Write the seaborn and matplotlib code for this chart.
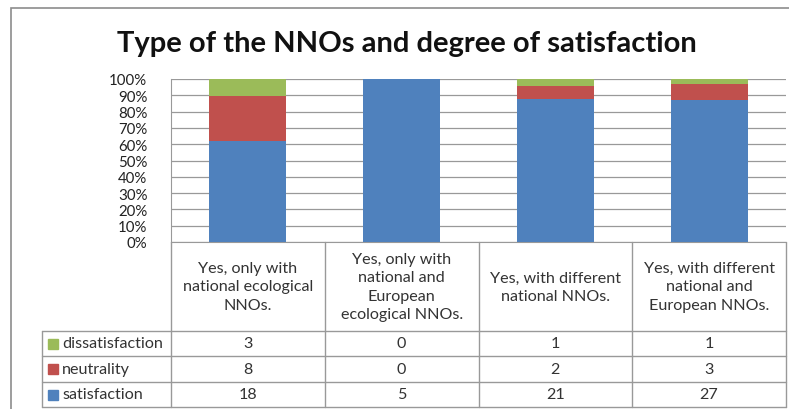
import pandas as pd
import matplotlib
matplotlib.use("Agg")
import matplotlib.pyplot as plt
import seaborn as sns
from matplotlib.lines import Line2D
from matplotlib.patches import Rectangle

# Data
categories = ["Yes, only with\nnational ecological\nNNOs.",
              "Yes, only with\nnational and\nEuropean\necological NNOs.",
              "Yes, with different\nnational NNOs.",
              "Yes, with different\nnational and\nEuropean NNOs."]
satisfaction = [18, 5, 21, 27]
neutrality = [8, 0, 2, 3]
dissatisfaction = [3, 0, 1, 1]

series_names = ["dissatisfaction", "neutrality", "satisfaction"]
colors = {"satisfaction": "#4F81BD", "neutrality": "#C0504D", "dissatisfaction": "#9BBB59"}

df = pd.DataFrame({"cat": list(range(len(categories))),
                   "satisfaction": satisfaction,
                   "neutrality": neutrality,
                   "dissatisfaction": dissatisfaction})
total = df[["satisfaction", "neutrality", "dissatisfaction"]].sum(axis=1)
df["cum_sat"] = df["satisfaction"] / total * 100
df["cum_neu"] = (df["satisfaction"] + df["neutrality"]) / total * 100
df["cum_dis"] = (df["satisfaction"] + df["neutrality"] + df["dissatisfaction"]) / total * 100

sns.set_style("white")
plt.rcParams["font.family"] = ["Lato", "DejaVu Sans"]

W, H = 789, 410
fig = plt.figure(figsize=(W / 100, H / 100), dpi=100)

def fx(px):
    return px / W

def fy(py):
    return 1 - py / H

# outer chart border
fig.add_artist(Rectangle((fx(11), fy(420)), fx(800) - fx(11), fy(9) - fy(420),
                         transform=fig.transFigure, fill=False, edgecolor="#8c8c8c", lw=1.2))

ax_l, ax_r, ax_t, ax_b = 171, 786, 80, 243
ax = fig.add_axes([fx(ax_l), fy(ax_b), fx(ax_r - ax_l), fy(ax_t) - fy(ax_b)])

for col, c in [("cum_dis", "dissatisfaction"), ("cum_neu", "neutrality"), ("cum_sat", "satisfaction")]:
    sns.barplot(data=df, x="cat", y=col, color=colors[c], width=0.5, saturation=1,
                ax=ax, zorder=3, edgecolor="none")

ax.set_xlim(-0.5, len(categories) - 0.5)
ax.set_ylim(0, 100)
ax.set_yticks(range(0, 101, 10))
ax.set_yticklabels([f"{v}%" for v in range(0, 101, 10)], fontsize=10.8, color="#222222")
ax.set_xticks([])
ax.set_xlabel("")
ax.set_ylabel("")
ax.yaxis.grid(True, color="#999999", lw=0.9, zorder=0)
ax.set_axisbelow(True)
ax.tick_params(axis="y", length=0, pad=17)
for s in ["top", "right"]:
    ax.spines[s].set_visible(False)
ax.spines["left"].set_color("#999999")
ax.spines["bottom"].set_color("#999999")

fig.text(fx(407), fy(44), "Type of the NNOs and degree of satisfaction",
         ha="center", va="center", fontsize=21, fontweight="bold", color="#111111")

# data table
row_y = [332, 357, 383, 408]
line_c = "#999999"
edges = [ax_l + (ax_r - ax_l) * i / len(categories) for i in range(len(categories) + 1)]

def hline(x0, x1, y):
    fig.add_artist(Line2D([fx(x0), fx(x1)], [fy(y), fy(y)], transform=fig.transFigure, color=line_c, lw=1))

def vline(x, y0, y1):
    fig.add_artist(Line2D([fx(x), fx(x)], [fy(y0), fy(y1)], transform=fig.transFigure, color=line_c, lw=1))

for y in row_y:
    hline(42, ax_r, y)
for x in edges:
    vline(x, ax_b, row_y[-1])
vline(42, row_y[0], row_y[-1])

txt_c = "#333333"
for i, lab in enumerate(categories):
    cx = (edges[i] + edges[i + 1]) / 2
    fig.text(fx(cx), fy((ax_b + row_y[0]) / 2), lab, ha="center", va="center",
             fontsize=11.6, color=txt_c, linespacing=1.38)

rows = {"dissatisfaction": dissatisfaction, "neutrality": neutrality, "satisfaction": satisfaction}
for r, name in enumerate(series_names):
    yc = (row_y[r] + row_y[r + 1]) / 2
    fig.add_artist(Rectangle((fx(48), fy(yc + 5)), fx(10), fy(0) - fy(10),
                             transform=fig.transFigure, color=colors[name]))
    fig.text(fx(62), fy(yc), name, ha="left", va="center", fontsize=11.6, color=txt_c)
    for i, v in enumerate(rows[name]):
        cx = (edges[i] + edges[i + 1]) / 2
        fig.text(fx(cx), fy(yc), str(v), ha="center", va="center", fontsize=11.6, color=txt_c)

fig.savefig("out.png", dpi=100)
